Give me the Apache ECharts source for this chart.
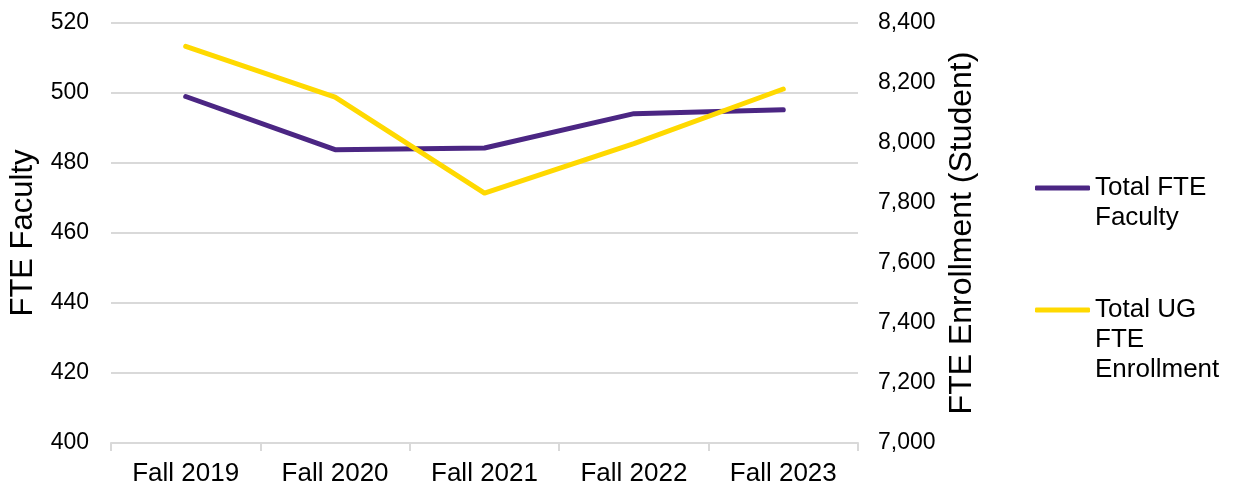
<!DOCTYPE html>
<html>
<head>
<meta charset="utf-8">
<script src="https://cdn.jsdelivr.net/npm/echarts@6/dist/echarts.min.js"></script>
<style>
  html, body { margin: 0; padding: 0; background: #fff; }
  #chart { width: 1237px; height: 487px; }
</style>
</head>
<body>
<div id="chart"></div>
<script>
// data
const terms = ['Fall 2019', 'Fall 2020', 'Fall 2021', 'Fall 2022', 'Fall 2023'];
const facultyFte = [499.0, 483.8, 484.3, 494.1, 495.2];
const ugEnrollment = [8322, 8153, 7833, 7998, 8180];

const purple = '#4b2683';
const gold = '#ffd900';
const font = 'Liberation Sans, Arial, sans-serif';

const chart = echarts.init(document.getElementById('chart'));

const legendBase = {
  orient: 'vertical',
  left: 1035,
  padding: 0,
  icon: 'roundRect',
  itemWidth: 55,
  itemHeight: 5,
  selectedMode: false,
  textStyle: { fontFamily: font, fontSize: 26, color: '#000', lineHeight: 30 }
};

// legend text is centred on the icon, so blank lines on top keep the
// first line level with the icon like in the reference
const option = {
  backgroundColor: '#fff',
  animation: false,
  textStyle: { fontFamily: font },
  grid: { left: 110, right: 379, top: 23, bottom: 44, containLabel: false },
  legend: [
    Object.assign({}, legendBase, {
      top: 143,
      data: ['Total FTE Faculty'],
      formatter: () => ' \nTotal FTE\nFaculty'
    }),
    Object.assign({}, legendBase, {
      top: 235,
      data: ['Total UG FTE Enrollment'],
      formatter: () => ' \n \nTotal UG\nFTE\nEnrollment'
    })
  ],
  xAxis: {
    type: 'category',
    data: terms,
    boundaryGap: true,
    axisLine: { lineStyle: { color: '#d9d9d9', width: 2 } },
    axisTick: { show: true, length: 8, lineStyle: { color: '#d9d9d9', width: 2 } },
    axisLabel: { fontFamily: font, fontSize: 26, color: '#000', margin: 18 }
  },
  yAxis: [
    {
      type: 'value',
      min: 400,
      max: 520,
      interval: 20,
      name: 'FTE Faculty',
      nameLocation: 'middle',
      nameRotate: 90,
      nameGap: 72,
      nameTextStyle: { fontFamily: font, fontSize: 31, color: '#000' },
      axisLine: { show: false },
      axisTick: { show: false },
      splitLine: { lineStyle: { color: '#d9d9d9', width: 2 } },
      axisLabel: { fontFamily: font, fontSize: 23, color: '#000', margin: 22 }
    },
    {
      type: 'value',
      min: 7000,
      max: 8400,
      interval: 200,
      position: 'right',
      name: 'FTE Enrollment (Student)',
      nameLocation: 'middle',
      nameRotate: 90,
      nameGap: 86,
      nameTextStyle: { fontFamily: font, fontSize: 32, color: '#000' },
      axisLine: { show: false },
      axisTick: { show: false },
      splitLine: { show: false },
      axisLabel: {
        fontFamily: font, fontSize: 23, color: '#000', margin: 20,
        formatter: v => v.toLocaleString('en-US')
      }
    }
  ],
  series: [
    {
      name: 'Total FTE Faculty',
      type: 'line',
      yAxisIndex: 0,
      data: facultyFte,
      symbol: 'none',
      color: purple,
      lineStyle: { color: purple, width: 5, cap: 'round', join: 'round' },
      z: 3
    },
    {
      name: 'Total UG FTE Enrollment',
      type: 'line',
      yAxisIndex: 1,
      data: ugEnrollment,
      symbol: 'none',
      color: gold,
      lineStyle: { color: gold, width: 5, cap: 'round', join: 'round' },
      z: 4
    }
  ]
};

chart.setOption(option);
</script>
</body>
</html>
